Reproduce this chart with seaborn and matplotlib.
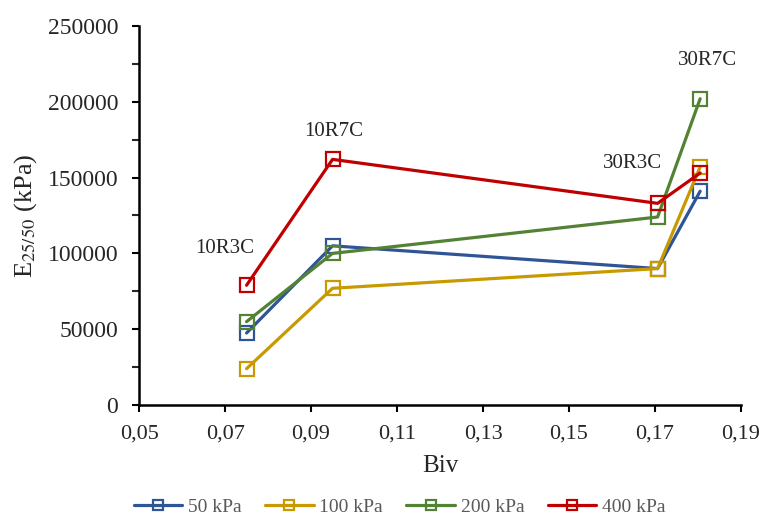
import numpy as np
import pandas as pd
import seaborn as sns
import matplotlib.pyplot as plt
from matplotlib.ticker import FuncFormatter, MultipleLocator

# data
biv = [0.075, 0.095, 0.1706, 0.1805]
samples = ["10R3C", "10R7C", "30R3C", "30R7C"]
e_50 = [47500, 105000, 90000, 141000]
e_100 = [24000, 77000, 90000, 157000]
e_200 = [55000, 100000, 124000, 202000]
e_400 = [79000, 162000, 133000, 153000]
series = ["50 kPa", "100 kPa", "200 kPa", "400 kPa"]
colors = ["#2F5597", "#C89A00", "#548235", "#C00000"]

df = pd.DataFrame({
    "Biv": biv * 4,
    "E": e_50 + e_100 + e_200 + e_400,
    "stress": [s for s in series for _ in biv],
})

sns.set_style("white")
plt.rcParams["font.family"] = ["Liberation Serif", "DejaVu Serif"]
plt.rcParams["mathtext.fontset"] = "stix"

fig = plt.figure(figsize=(7.6, 5.18), dpi=100)
ax = fig.add_axes([0.183, 0.218, 0.792, 0.732])

for s, c in zip(series, colors):
    sns.lineplot(data=df[df.stress == s], x="Biv", y="E", ax=ax, color=c,
                 linewidth=2.3, marker="s", markersize=10, markerfacecolor="none",
                 markeredgecolor=c, markeredgewidth=1.6, label=s)

# sample labels
ax.text(0.0698, 97000, samples[0], fontsize=15, ha="center", va="bottom")
ax.text(0.0953, 174000, samples[1], fontsize=15, ha="center", va="bottom")
ax.text(0.1647, 153000, samples[2], fontsize=15, ha="center", va="bottom")
ax.text(0.1823, 221000, samples[3], fontsize=15, ha="center", va="bottom")

ax.set_xlim(0.05, 0.19)
ax.set_ylim(0, 250000)
ax.set_xticks(np.arange(0.05, 0.1901, 0.02))
ax.yaxis.set_major_locator(MultipleLocator(50000))
ax.yaxis.set_minor_locator(MultipleLocator(25000))
ax.xaxis.set_major_formatter(FuncFormatter(lambda v, p: f"{v:.2f}".replace(".", ",")))
ax.yaxis.set_major_formatter(FuncFormatter(lambda v, p: f"{v:.0f}"))
ax.tick_params(axis="both", which="major", direction="out", length=5, width=1.5,
               labelsize=17, color="black", bottom=True, left=True)
ax.tick_params(axis="x", which="major", pad=9, labelsize=16)
ax.tick_params(axis="y", which="major", pad=10)
ax.tick_params(axis="y", which="minor", direction="out", length=5, width=1.5, left=True)

for side in ["top", "right"]:
    ax.spines[side].set_visible(False)
for side in ["left", "bottom"]:
    ax.spines[side].set_color("black")
    ax.spines[side].set_linewidth(1.8)

ax.set_xlabel("Biv", fontsize=18, labelpad=8)
ax.set_ylabel(r"E$_{25/50}$ (kPa)", fontsize=19, labelpad=6)

ax.legend(loc="center", bbox_to_anchor=(0.433, -0.268), ncol=4, frameon=False,
          fontsize=14, labelcolor="#595959", handlelength=2.5, columnspacing=1.2,
          handletextpad=0.3, markerscale=0.75, borderpad=0.1)

fig.savefig("out.png", dpi=100)
